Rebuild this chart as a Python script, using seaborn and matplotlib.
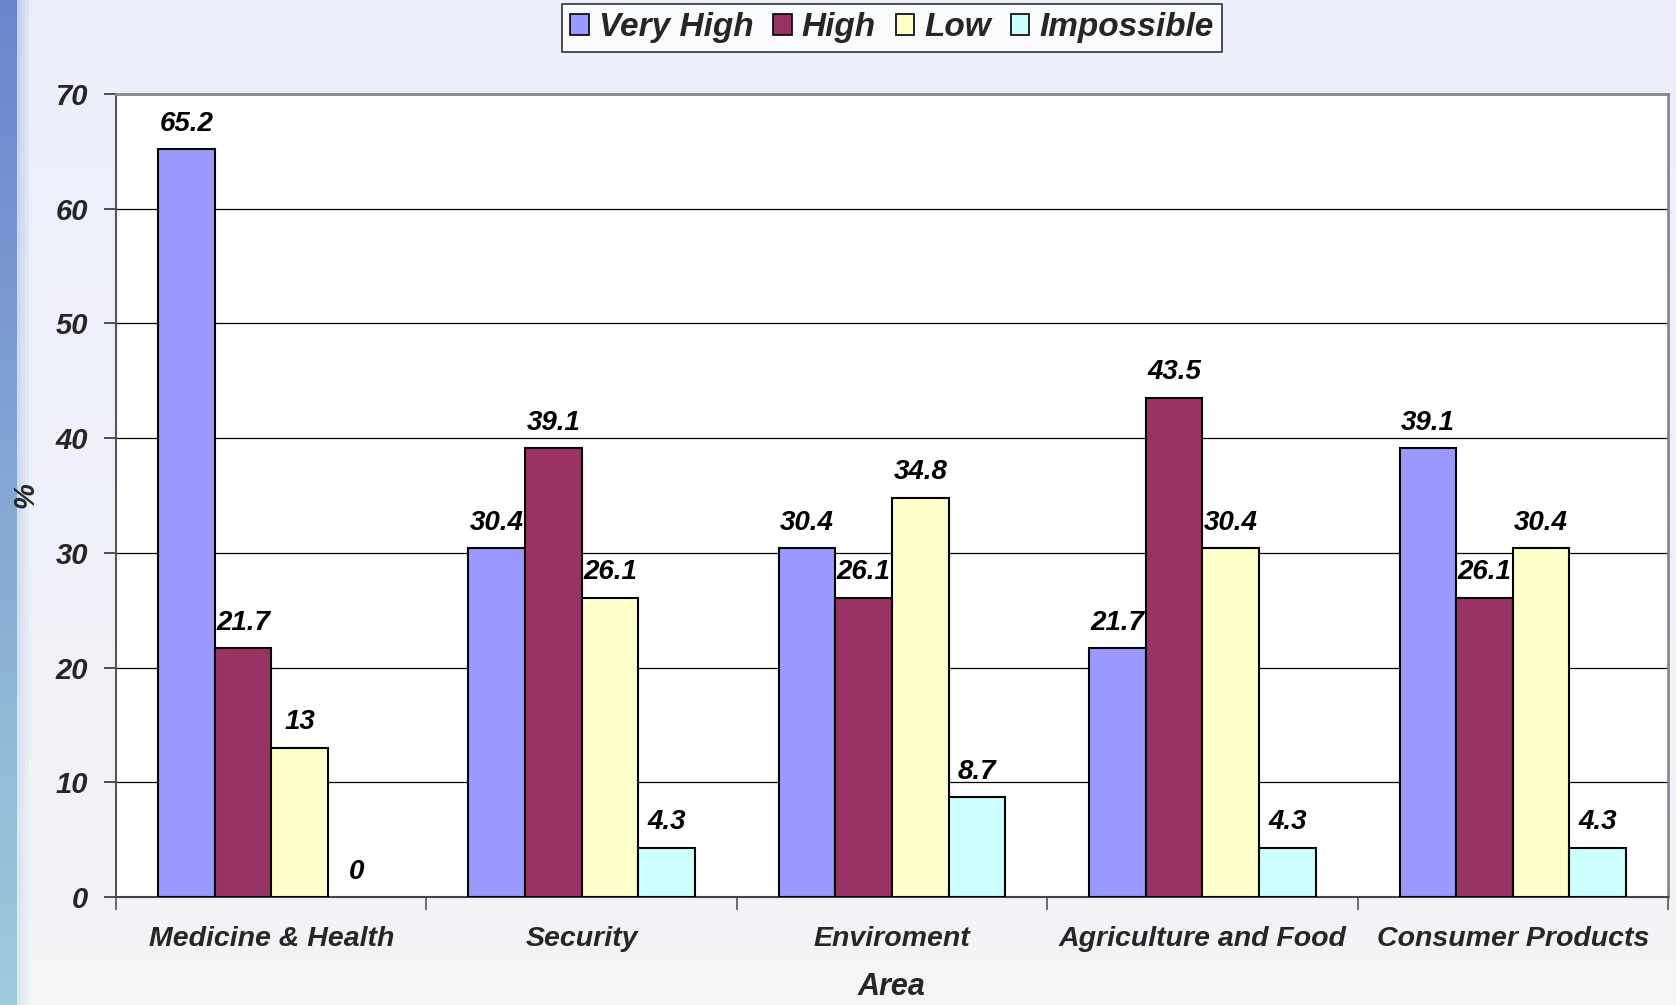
import numpy as np
import pandas as pd
import matplotlib
matplotlib.use("Agg")
import matplotlib.pyplot as plt
import seaborn as sns

# Survey results: share of respondents (%) per area and rating
areas = ["Medicine & Health", "Security", "Enviroment", "Agriculture and Food", "Consumer Products"]
ratings = ["Very High", "High", "Low", "Impossible"]
very_high = [65.2, 30.4, 30.4, 21.7, 39.1]
high = [21.7, 39.1, 26.1, 43.5, 26.1]
low = [13, 26.1, 34.8, 30.4, 30.4]
impossible = [0, 4.3, 8.7, 4.3, 4.3]
y_ticks = [0, 10, 20, 30, 40, 50, 60, 70]

palette = ["#9999FF", "#993366", "#FFFFCC", "#CCFFFF"]

rows = []
for rating, vals in zip(ratings, [very_high, high, low, impossible]):
    for area, v in zip(areas, vals):
        rows.append({"Area": area, "Rating": rating, "Value": v})
df = pd.DataFrame(rows)

sns.set_theme(style="white")
plt.rcParams["font.family"] = ["Liberation Sans", "DejaVu Sans"]
plt.rcParams["font.weight"] = "bold"
plt.rcParams["font.style"] = "italic"

W, H = 1676, 1005
fig = plt.figure(figsize=(W / 100, H / 100), dpi=100)

# soft lavender backdrop with a blue strip on the left edge
bg = fig.add_axes([0, 0, 1, 1], zorder=-10)
yy, xx = np.mgrid[0:1:200j, 0:1:400j]
top = np.array([0.925, 0.933, 0.985])
bot = np.array([0.955, 0.958, 0.965])
img = top[None, None, :] * (1 - yy[..., None]) + bot[None, None, :] * yy[..., None]
strip = xx < 14 / W
stripcol_top = np.array([0.42, 0.52, 0.80])
stripcol_bot = np.array([0.62, 0.80, 0.86])
sc = stripcol_top[None, None, :] * (1 - yy[..., None]) + stripcol_bot[None, None, :] * yy[..., None]
img[strip] = sc[strip]
fade = (xx >= 14 / W) & (xx < 30 / W)
w = ((xx - 14 / W) / (16 / W))[..., None]
img = np.where(fade[..., None], sc * (1 - w) * 0.35 + img * (1 - 0.35 * (1 - w)), img)
bg.imshow(img, aspect="auto", extent=[0, 1, 0, 1], origin="upper")
bg.axis("off")

ax = fig.add_axes([116 / W, 1 - 897 / H, (1668 - 116) / W, (897 - 94) / H])
ax.set_facecolor("white")

sns.barplot(data=df, x="Area", y="Value", hue="Rating", hue_order=ratings,
            order=areas, palette=palette, width=0.73, edgecolor="black",
            linewidth=1.5, saturation=1, ax=ax, zorder=3)

# hide the outline of zero-height bars
for cont in ax.containers:
    for b in cont:
        if b.get_height() == 0:
            b.set_linewidth(0)

for cont in ax.containers:
    ax.bar_label(cont, labels=[f"{b.get_height():g}" for b in cont], padding=9,
                 fontsize=20, fontweight="bold", fontstyle="italic", color="black")

ax.set_ylim(0, 70)
ax.set_xlim(-0.5, 4.5)
ax.set_yticks(y_ticks)
ax.yaxis.grid(True, color="black", linewidth=0.9, zorder=0)
ax.set_axisbelow(True)

ax.tick_params(axis="y", which="major", length=9, width=1.2, color="#333333",
               direction="out", left=True, pad=11, labelsize=21)
ax.tick_params(axis="x", which="major", length=0, pad=21, labelsize=20.5)
ax.set_xticks(np.arange(-0.5, 4.6, 1), minor=True)
ax.tick_params(axis="x", which="minor", length=9, width=1.2, color="#555555",
               direction="out", bottom=True)
for lab in ax.get_xticklabels() + ax.get_yticklabels():
    lab.set_fontweight("bold")
    lab.set_fontstyle("italic")

for side in ["top", "right"]:
    ax.spines[side].set_color("#888888")
    ax.spines[side].set_linewidth(2)
ax.spines["left"].set_color("#555555")
ax.spines["left"].set_linewidth(1.5)
ax.spines["bottom"].set_color("#444444")
ax.spines["bottom"].set_linewidth(1.5)

ax.set_xlabel("Area", fontsize=22, fontweight="bold", fontstyle="italic", labelpad=14)
ax.set_ylabel("%", fontsize=21, fontweight="bold", fontstyle="italic")
ax.yaxis.set_label_coords((39 - 116) / (1668 - 116), 0.5)

ax.legend_.remove()
handles = [plt.Rectangle((0, 0), 1, 1, facecolor=c, edgecolor="black", linewidth=1.2)
           for c in palette]
leg = fig.legend(handles, ratings, loc="upper center", bbox_to_anchor=(892 / W, 1 - 4 / H),
                 ncol=4, frameon=True, fancybox=False, edgecolor="black",
                 handlelength=0.55, handleheight=0.55, handletextpad=0.3,
                 columnspacing=0.6, borderpad=0.25, borderaxespad=0,
                 prop={"family": "Liberation Sans", "weight": "bold", "style": "italic", "size": 24})
leg.get_frame().set_linewidth(1.2)
leg.get_frame().set_facecolor("white")

fig.savefig("out.png", dpi=100)
